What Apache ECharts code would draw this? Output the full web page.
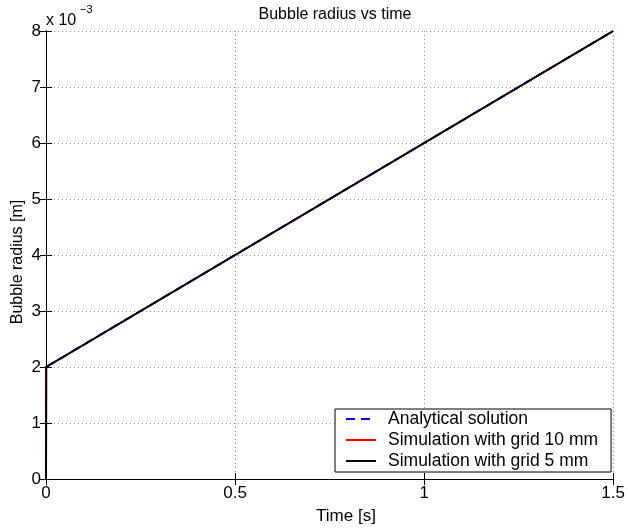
<!DOCTYPE html>
<html><head><meta charset="utf-8">
<script src="https://cdn.jsdelivr.net/npm/echarts@6/dist/echarts.min.js"></script>
<style>html,body{margin:0;padding:0;background:#fff}#c{width:628px;height:528px}</style>
</head><body><div id="c"></div>
<script>
const seriesNames = ['Analytical solution', 'Simulation with grid 10 mm', 'Simulation with grid 5 mm'];
const analyticalT = [0, 1.5];
const analyticalR = [0.002, 0.008];
const sim10T = [0, 0.0005, 1.5];
const sim10R = [0, 0.002, 0.008];
const sim5T = [0, 0.0005, 1.5];
const sim5R = [0, 0.002, 0.008];
const xTicks = [0, 0.5, 1, 1.5];
const yTicks = [0, 1, 2, 3, 4, 5, 6, 7, 8];

const FONT = 'Liberation Sans, Arial, sans-serif';
const FS = 17;
const zip = (a, b) => a.map((v, i) => [v, b[i]]);
const chart = echarts.init(document.getElementById('c'));
const axLine = {show: true, lineStyle: {color: '#000', width: 1}};
const tick = {show: true, inside: true, length: 6, lineStyle: {color: '#000'}};
const split = {show: true, lineStyle: {color: '#9a9a9a', type: [1, 3], width: 1}};
chart.setOption({
  animation: false,
  backgroundColor: '#fff',
  title: {text: 'Bubble radius vs time', left: 330, top: 2, textAlign: 'center',
    textStyle: {fontFamily: FONT, fontSize: 16, fontWeight: 'normal', color: '#000'}},
  grid: {left: 46, right: 13, top: 31, bottom: 49, containLabel: false},
  legend: {
    orient: 'vertical', left: 335, top: 409,
    data: seriesNames,
    backgroundColor: '#fff', borderColor: '#000', borderWidth: 1, borderRadius: 0,
    padding: [1, 13, 2, 10], itemGap: 3, itemWidth: 30, itemHeight: 14,
    itemStyle: {opacity: 0},
    textStyle: {fontFamily: FONT, fontSize: 17.5, color: '#000', padding: [0, 0, 0, 7]}
  },
  xAxis: [
    {type: 'value', min: 0, max: 1.5, interval: 0.5, position: 'bottom',
     axisLine: axLine, axisTick: tick, splitLine: split,
     axisLabel: {fontFamily: FONT, fontSize: FS, color: '#000', margin: 6,
       formatter: v => String(xTicks.find(t => Math.abs(t - v) < 1e-9) ?? v)}},
    {type: 'value', min: 0, max: 1.5, interval: 0.5, position: 'top',
     axisLine: axLine, axisTick: tick, splitLine: {show: false}, axisLabel: {show: false}}
  ],
  yAxis: [
    {type: 'value', min: 0, max: 0.008, interval: 0.001, position: 'left',
     axisLine: axLine, axisTick: tick, splitLine: split,
     axisLabel: {fontFamily: FONT, fontSize: FS, color: '#000', margin: 5,
       formatter: v => String(yTicks[Math.round(v * 1000)])}},
    {type: 'value', min: 0, max: 0.008, interval: 0.001, position: 'right',
     axisLine: axLine, axisTick: tick, splitLine: {show: false}, axisLabel: {show: false}}
  ],
  graphic: [
    {type: 'text', x: 46, y: 21,
     style: {text: 'x 10', fontFamily: FONT, fontSize: 16, fill: '#000', verticalAlign: 'middle', align: 'left'}},
    {type: 'text', x: 80, y: 10,
     style: {text: '−3', fontFamily: FONT, fontSize: 11, fill: '#000', verticalAlign: 'middle', align: 'left'}},
    {type: 'text', x: 346, y: 516,
     style: {text: 'Time [s]', fontFamily: FONT, fontSize: FS, fill: '#000', verticalAlign: 'middle', align: 'center'}},
    {type: 'text', x: 18, y: 262, rotation: Math.PI / 2,
     style: {text: 'Bubble radius [m]', fontFamily: FONT, fontSize: 16, fill: '#000', verticalAlign: 'middle', align: 'center'}}
  ],
  series: [
    {name: seriesNames[0], type: 'line', data: zip(analyticalT, analyticalR), showSymbol: false,
     lineStyle: {color: '#0000ff', width: 2, type: [9, 6]}, itemStyle: {color: '#0000ff'}, z: 3},
    {name: seriesNames[1], type: 'line', data: zip(sim10T, sim10R), showSymbol: false,
     lineStyle: {color: '#ff0000', width: 2}, itemStyle: {color: '#ff0000'}, z: 2},
    {name: seriesNames[2], type: 'line', data: zip(sim5T, sim5R), showSymbol: false,
     lineStyle: {color: '#000000', width: 2}, itemStyle: {color: '#000000'}, z: 4}
  ]
});
</script></body></html>
